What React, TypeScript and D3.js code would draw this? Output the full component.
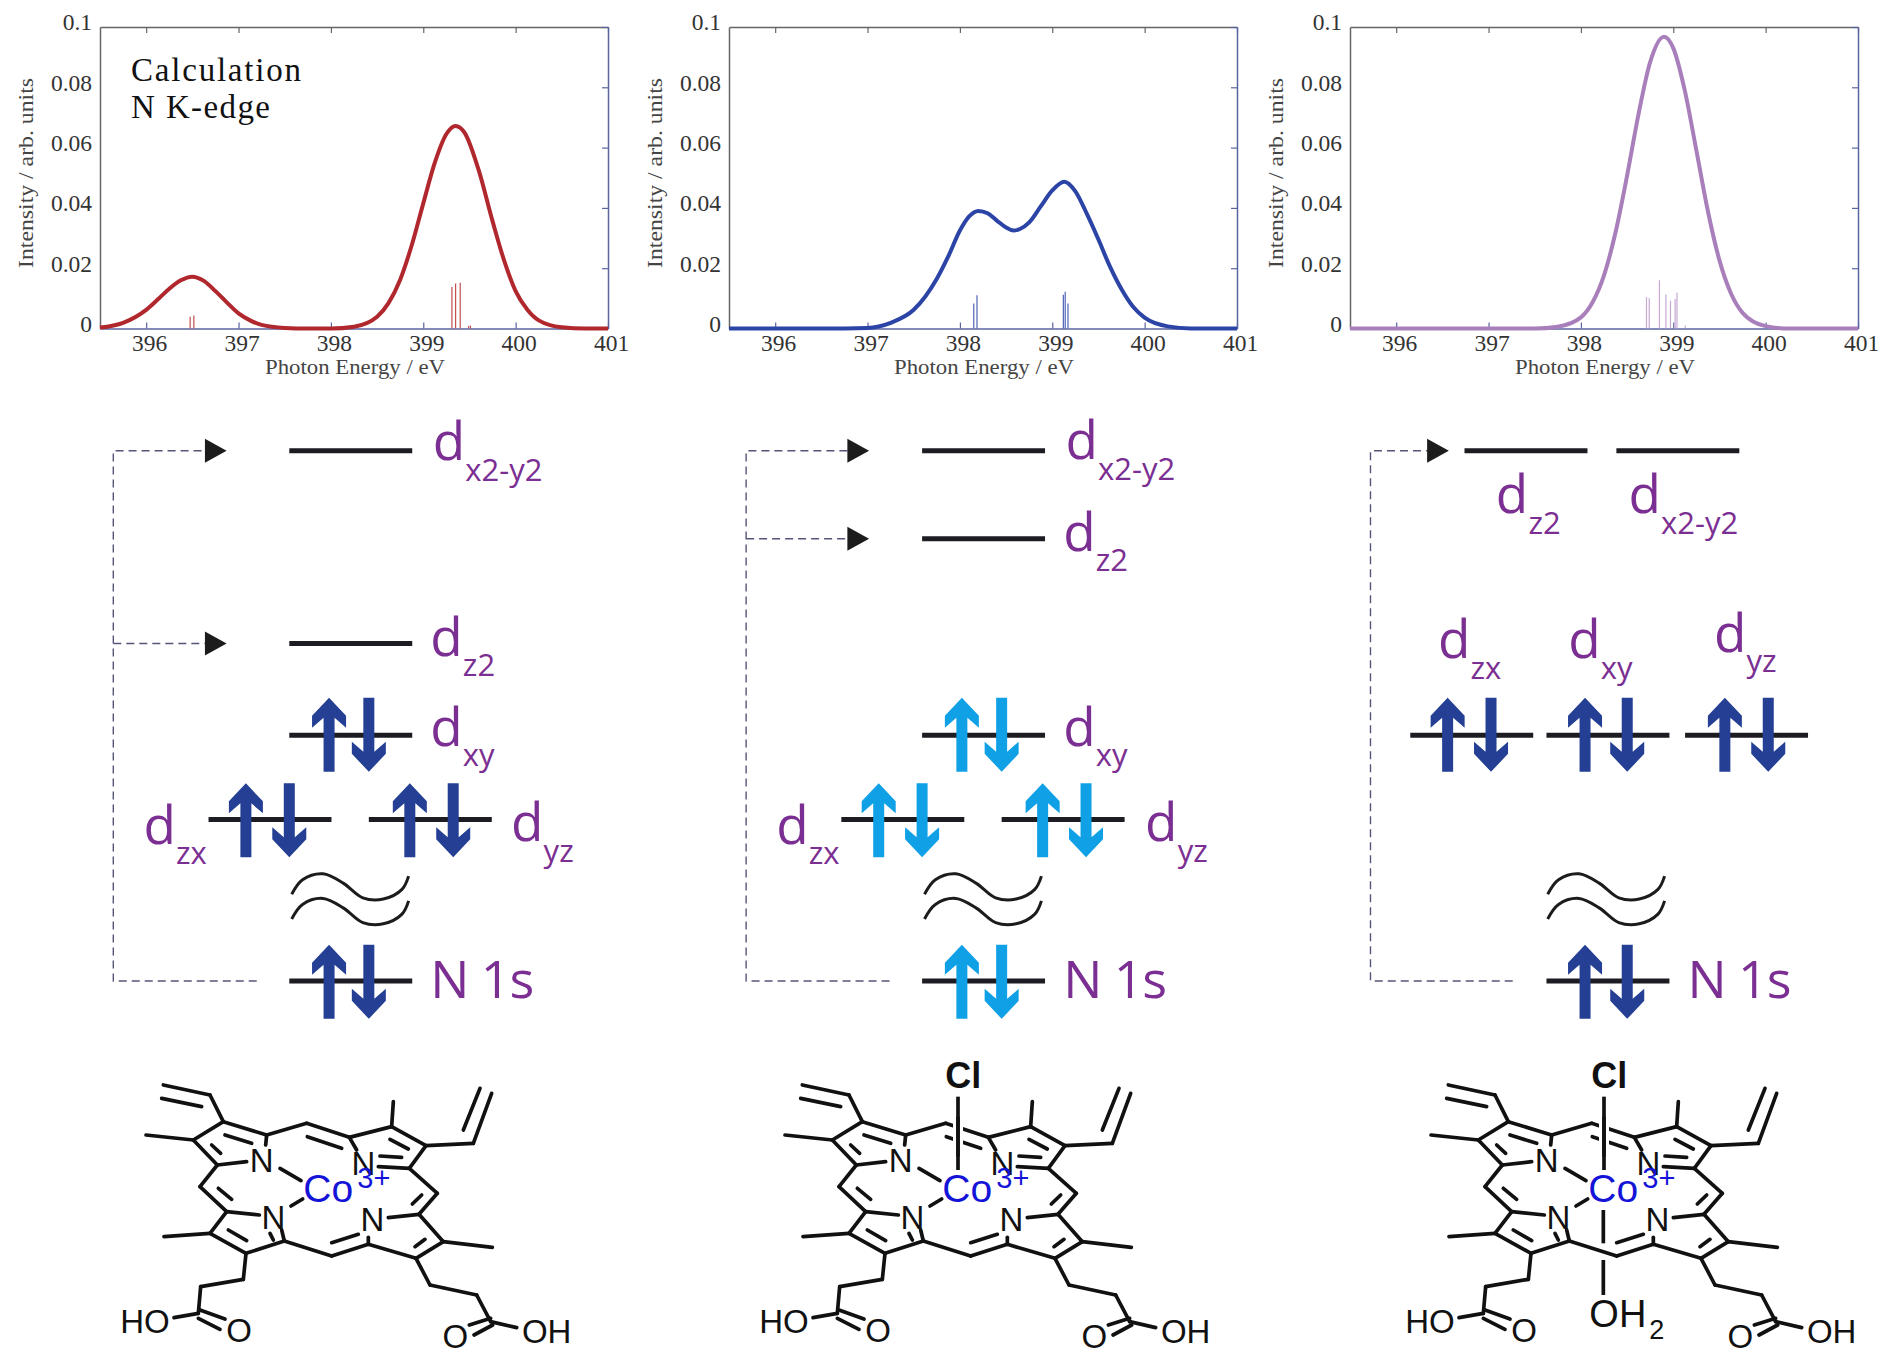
import { useRef, useEffect } from 'react';
import * as d3 from 'd3';

// spectra: [photon energy, intensity]
const redCurve: [number, number][] = [
  [395.5, 0.0003], [395.75, 0.0019], [396, 0.0062], [396.125, 0.0096], [396.25, 0.0132], [396.375, 0.016], [396.5, 0.0172], [396.625, 0.0158], [396.75, 0.0124],
  [396.875, 0.0086], [397, 0.005], [397.125, 0.0027], [397.25, 0.0012], [397.5, 0.0002], [397.75, 0], [398, 0], [398.25, 0.0006], [398.5, 0.0039],
  [398.625, 0.0085], [398.75, 0.0162], [398.875, 0.0276], [399, 0.0415], [399.125, 0.055], [399.25, 0.0645], [399.35, 0.0672], [399.45, 0.0648],
  [399.6, 0.0525], [399.75, 0.0356], [399.875, 0.0226], [400, 0.0124], [400.125, 0.0063], [400.25, 0.0027], [400.5, 0.0004], [400.75, 0], [401, 0],
];
const blueCurve: [number, number][] = [
  [395.5, 0], [396, 0], [396.5, 0], [397, 0.0002], [397.25, 0.0019], [397.5, 0.0062], [397.75, 0.0165], [397.875, 0.024], [398, 0.0325], [398.1, 0.0372], [398.2, 0.039],
  [398.3, 0.0382], [398.4, 0.0358], [398.5, 0.0335], [398.58, 0.0325], [398.65, 0.033], [398.75, 0.0352], [398.875, 0.0405], [399, 0.0458], [399.13, 0.0487],
  [399.25, 0.0455], [399.375, 0.038], [399.5, 0.0295], [399.625, 0.0205], [399.75, 0.013], [399.875, 0.0072], [400, 0.0036], [400.25, 0.0007], [400.5, 0], [401, 0],
];
const purpleCurve: [number, number][] = [
  [395.5, 0], [396.5, 0], [397.5, 0], [397.75, 0.0006], [398, 0.0037], [398.125, 0.0086], [398.25, 0.0176], [398.375, 0.0319], [398.5, 0.0507], [398.625, 0.0713],
  [398.75, 0.0884], [398.9, 0.0968], [399, 0.093], [399.125, 0.0789], [399.25, 0.0591], [399.375, 0.0389], [399.5, 0.0226], [399.625, 0.0116], [399.75, 0.0052], [400, 0.0008], [400.25, 0], [401, 0],
];

// calculated transitions
const redSticks: [number, number][] = [
  [396.476, 0.0039], [396.516, 0.0043], [399.31, 0.0138], [399.35, 0.0149], [399.4, 0.0152], [399.49, 0.0008], [399.51, 0.001],
];
const blueSticks: [number, number][] = [
  [398.15, 0.0083], [398.185, 0.011], [399.12, 0.0112], [399.14, 0.0122], [399.17, 0.0083],
];
const purpleSticks: [number, number][] = [
  [398.71, 0.0104], [398.74, 0.01], [398.85, 0.016], [398.92, 0.0113], [398.97, 0.0092], [399.02, 0.0098], [399.04, 0.0119], [399.13, 0.001],
];

const xTicks = [396, 397, 398, 399, 400, 401];
const yTicks = [0, 0.02, 0.04, 0.06, 0.08, 0.1];

const panelLeft = [100, 729, 1350];
const curves = [redCurve, blueCurve, purpleCurve];
const sticks = [redSticks, blueSticks, purpleSticks];
const curveColors = ['#b0282e', '#2c44a6', '#a87fbb'];
const stickColors = ['#c2504f', '#4e63b8', '#c7a8d3'];
const arrowColors = ['#243f94', '#10a0e6', '#243f94'];

// energy level diagram, in reference picture units (1568 wide)
const levels: { x: number; y: number }[][] = [
  [{ x: 240, y: 374 }, { x: 240, y: 534 }, { x: 240, y: 610 }, { x: 173, y: 680 }, { x: 306, y: 680 }, { x: 240, y: 814 }],
  [{ x: 765, y: 374 }, { x: 765, y: 447 }, { x: 765, y: 610 }, { x: 698, y: 680 }, { x: 831, y: 680 }, { x: 765, y: 814 }],
  [{ x: 1215, y: 374 }, { x: 1341, y: 374 }, { x: 1170, y: 610 }, { x: 1283, y: 610 }, { x: 1398, y: 610 }, { x: 1283, y: 814 }],
];
const spinPairs: [number, number, number][][] = [
  [[273, 306, 579], [204, 240, 650], [340, 376, 650], [273, 306, 784]],
  [[798, 831, 579], [729, 765, 650], [865, 901, 650], [798, 831, 784]],
  [[1201, 1237, 579], [1315, 1350, 579], [1431, 1467, 579], [1315, 1350, 784]],
];
const orbitalLabels: { sub: string; x: number; y: number }[][] = [
  [{ sub: 'x2-y2', x: 359, y: 382 }, { sub: 'z2', x: 357, y: 544 }, { sub: 'xy', x: 357, y: 619 }, { sub: 'zx', x: 119, y: 700 }, { sub: 'yz', x: 424, y: 698 }],
  [{ sub: 'x2-y2', x: 884, y: 381 }, { sub: 'z2', x: 882, y: 457 }, { sub: 'xy', x: 882, y: 619 }, { sub: 'zx', x: 644, y: 700 }, { sub: 'yz', x: 950, y: 698 }],
  [{ sub: 'z2', x: 1241, y: 426 }, { sub: 'x2-y2', x: 1351, y: 426 }, { sub: 'zx', x: 1193, y: 546 }, { sub: 'xy', x: 1301, y: 546 }, { sub: 'yz', x: 1422, y: 541 }],
];
const n1sLabelX = [357, 882, 1400];
const dashX = [94, 619, 1137];
const dashEnd = [213, 738, 1255];
const dashBranches = [[374, 534], [374, 447], [374]];
const arrowHeadX = [170, 703, 1184];
const tildeX = [0, 525, 1042];
const tildePoints: [number, number][] = [[242, 742], [251, 730], [268, 725], [285, 733], [301, 745], [318, 746], [333.5, 738], [339, 727]];

// porphyrin skeleton, in units of a third of a pixel
const bonds: number[][] = [
  [190, 105, 330, 135], [185, 145, 305, 170], [330, 135, 370, 215], [370, 215, 500, 255], [375, 255, 455, 280], [370, 215, 280, 270],
  [280, 270, 138, 255], [280, 270, 352, 345], [335, 285, 362, 310], [352, 345, 440, 335], [500, 255, 497, 285], [500, 255, 620, 220],
  [620, 220, 748, 262], [622, 260, 725, 295], [748, 262, 770, 300], [748, 262, 875, 230], [875, 230, 880, 155], [875, 230, 978, 287],
  [870, 268, 925, 297], [978, 287, 1120, 280], [1120, 280, 1175, 130], [1090, 240, 1140, 115], [978, 287, 928, 355], [928, 355, 835, 350],
  [840, 318, 905, 322], [928, 355, 1012, 430], [1012, 430, 957, 493], [965, 435, 937, 462], [957, 493, 865, 503], [957, 493, 1030, 575],
  [1030, 575, 1177, 592], [1030, 575, 948, 625], [975, 568, 945, 590], [948, 625, 805, 583], [805, 583, 805, 562], [805, 583, 695, 618],
  [695, 578, 775, 553], [695, 618, 553, 573], [553, 573, 545, 540], [520, 570, 510, 550], [553, 573, 438, 610], [438, 610, 330, 550],
  [440, 572, 385, 540], [330, 550, 192, 560], [330, 550, 380, 485], [380, 485, 478, 495], [380, 485, 300, 410], [395, 448, 355, 415],
  [300, 410, 352, 345], [438, 610, 430, 688], [430, 688, 302, 710], [302, 710, 295, 790], [295, 790, 222, 803], [300, 780, 375, 807],
  [295, 805, 360, 838], [948, 625, 990, 705], [990, 705, 1130, 735], [1130, 735, 1172, 815], [1172, 815, 1250, 833], [1172, 805, 1108, 825],
  [1178, 825, 1122, 855], [540, 355, 603, 392], [573, 468, 608, 447],
];
const atoms: { t: string; x: number; y: number }[] = [
  { t: 'N', x: 485, y: 365 }, { t: 'N', x: 790, y: 375 }, { t: 'N', x: 520, y: 537 }, { t: 'N', x: 817, y: 542 },
  { t: 'HO', x: 135, y: 850 }, { t: 'O', x: 417, y: 876 }, { t: 'O', x: 1066, y: 893 }, { t: 'OH', x: 1340, y: 880 },
];
const moleculeLeft = [100, 739, 1385];

export default function App() {
  const svgRef = useRef<SVGSVGElement>(null);

  useEffect(() => {
    if (!svgRef.current) return;

    const width = 1890;
    const height = 1351;
    const plotWidth = 508;
    const top = 27;
    const bottom = 328.5;
    const serif = '"Liberation Serif", serif';
    const sans = '"Open Sans", sans-serif';
    const arial = '"Liberation Sans", sans-serif';

    const svg = d3.select(svgRef.current)
      .attr('width', width)
      .attr('height', height);

    svg.selectAll('*').remove();

    const sx = d3.scaleLinear().domain([0, 1568]).range([0, width]);
    const sy = d3.scaleLinear().domain([0, 1121]).range([0, height]);

    // spectra
    panelLeft.forEach((left, i) => {
      const x = d3.scaleLinear().domain([395.5, 401]).range([left, left + plotWidth]);
      const y = d3.scaleLinear().domain([0, 0.1]).range([bottom, top]);
      const g = svg.append('g');

      const styleAxis = (a: any, color: string) => {
        a.selectAll('path').attr('stroke', color).attr('stroke-width', 1.5);
        a.selectAll('line').attr('stroke', color).attr('stroke-width', 1.2);
        a.selectAll('text')
          .attr('font-family', serif)
          .attr('font-size', 23.5)
          .attr('fill', '#333');
        return a;
      };

      styleAxis(g.append('g').attr('transform', `translate(0,${top})`)
        .call(d3.axisTop(x).tickValues(xTicks).tickSize(-6).tickSizeOuter(0).tickFormat(() => '')), '#666');
      styleAxis(g.append('g').attr('transform', `translate(${left + plotWidth},0)`)
        .call(d3.axisRight(y).tickValues(yTicks).tickSize(-6).tickSizeOuter(0).tickFormat(() => '')), '#5a64a0');
      styleAxis(g.append('g').attr('transform', `translate(${left},0)`)
        .call(d3.axisLeft(y).tickValues(yTicks).tickSize(0).tickPadding(8).tickFormat(d => String(d))), '#666')
        .selectAll('text').attr('dy', '0.12em');
      styleAxis(g.append('g').attr('transform', `translate(0,${bottom})`)
        .call(d3.axisBottom(x).tickValues(xTicks).tickSize(-6).tickSizeOuter(0).tickPadding(6).tickFormat(d => String(d))), '#5a64a0')
        .selectAll('text').attr('dx', 3);

      g.append('text')
        .attr('x', left + 165).attr('y', 374)
        .attr('font-family', serif).attr('font-size', 22).attr('fill', '#444')
        .attr('textLength', 180).attr('lengthAdjust', 'spacingAndGlyphs')
        .text('Photon Energy / eV');
      g.append('text')
        .attr('transform', `translate(${left - 67},268) rotate(-90)`)
        .attr('font-family', serif).attr('font-size', 21).attr('fill', '#444')
        .attr('textLength', 190).attr('lengthAdjust', 'spacingAndGlyphs')
        .text('Intensity / arb. units');

      g.selectAll('line.stick')
        .data(sticks[i])
        .join('line')
        .attr('class', 'stick')
        .attr('x1', d => x(d[0])).attr('x2', d => x(d[0]))
        .attr('y1', y(0)).attr('y2', d => y(d[1]))
        .attr('stroke', stickColors[i])
        .attr('stroke-width', 1.2);

      const line = d3.line<[number, number]>()
        .x(d => x(d[0]))
        .y(d => y(d[1]))
        .curve(d3.curveMonotoneX);

      g.append('path')
        .datum(curves[i])
        .attr('fill', 'none')
        .attr('stroke', curveColors[i])
        .attr('stroke-width', 4)
        .attr('d', line);
    });

    svg.append('text').attr('x', 131).attr('y', 81)
      .attr('font-family', serif).attr('font-size', 33).attr('fill', '#111')
      .attr('textLength', 170).attr('lengthAdjust', 'spacing')
      .text('Calculation');
    svg.append('text').attr('x', 131).attr('y', 118)
      .attr('font-family', serif).attr('font-size', 33).attr('fill', '#111')
      .attr('textLength', 139).attr('lengthAdjust', 'spacing')
      .text('N K-edge');

    // energy levels
    const purple = '#7b2f92';
    const spinArrow = (cx: number, t: number, up: boolean) => {
      const h = 74;
      const yy = (v: number) => (up ? t + v : t + h - v);
      return `M${cx},${yy(0)}L${cx + 17},${yy(18)}V${yy(30)}L${cx + 5.5},${yy(20)}V${yy(h)}H${cx - 5.5}V${yy(20)}L${cx - 17},${yy(30)}V${yy(18)}Z`;
    };
    const tilde = d3.line<[number, number]>()
      .x(d => sx(d[0]))
      .y(d => sy(d[1]))
      .curve(d3.curveCatmullRom.alpha(0.5));

    levels.forEach((panel, i) => {
      const g = svg.append('g');

      // dashed excitation path
      const dx = sx(dashX[i]);
      const dash = d3.path();
      dash.moveTo(sx(dashEnd[i]), sy(814));
      dash.lineTo(dx, sy(814));
      dash.lineTo(dx, sy(374));
      dash.lineTo(sx(arrowHeadX[i]), sy(374));
      dashBranches[i].slice(1).forEach(b => {
        dash.moveTo(dx, sy(b));
        dash.lineTo(sx(arrowHeadX[i]), sy(b));
      });
      g.append('path').attr('d', dash.toString())
        .attr('fill', 'none').attr('stroke', '#55557a').attr('stroke-width', 1.4).attr('stroke-dasharray', '8,5');
      g.selectAll('path.head')
        .data(dashBranches[i])
        .join('path')
        .attr('class', 'head')
        .attr('fill', '#1c1c1c')
        .attr('d', b => `M${sx(arrowHeadX[i])},${sy(b) - 12}L${sx(arrowHeadX[i] + 18)},${sy(b)}L${sx(arrowHeadX[i])},${sy(b) + 12}Z`);

      g.selectAll('line.level')
        .data(panel)
        .join('line')
        .attr('class', 'level')
        .attr('x1', d => sx(d.x)).attr('x2', d => sx(d.x + 102))
        .attr('y1', d => sy(d.y)).attr('y2', d => sy(d.y))
        .attr('stroke', '#1c1c22')
        .attr('stroke-width', 5);

      g.selectAll('path.spin')
        .data(spinPairs[i].flatMap(p => [{ x: p[0], t: p[2], up: true }, { x: p[1], t: p[2], up: false }]))
        .join('path')
        .attr('class', 'spin')
        .attr('fill', arrowColors[i])
        .attr('d', d => spinArrow(sx(d.x), sy(d.t), d.up));

      [0, 20.5].forEach(off => {
        g.append('path')
          .datum(tildePoints.map(p => [p[0] + tildeX[i], p[1] + off] as [number, number]))
          .attr('fill', 'none').attr('stroke', '#1c1c1c').attr('stroke-width', 3)
          .attr('d', tilde);
      });

      orbitalLabels[i].forEach(l => {
        g.append('text').attr('x', sx(l.x)).attr('y', sy(l.y))
          .attr('font-family', sans).attr('font-size', 53).attr('fill', purple)
          .text('d');
        g.append('text').attr('x', sx(l.x + 27)).attr('y', sy(l.y + 17))
          .attr('font-family', sans).attr('font-size', 31).attr('fill', purple)
          .text(l.sub);
      });
      g.append('text').attr('x', sx(n1sLabelX[i])).attr('y', sy(828))
        .attr('font-family', sans).attr('font-size', 52).attr('fill', purple)
        .attr('textLength', 104).attr('lengthAdjust', 'spacing')
        .text('N 1s');
    });

    // porphyrin drawings
    moleculeLeft.forEach((left, i) => {
      const mx = d3.scaleLinear().domain([0, 3]).range([left, left + 1]);
      const my = d3.scaleLinear().domain([0, 3]).range([1050, 1051]);
      const g = svg.append('g');

      g.selectAll('line.bond')
        .data(bonds)
        .join('line')
        .attr('class', 'bond')
        .attr('x1', d => mx(d[0])).attr('y1', d => my(d[1]))
        .attr('x2', d => mx(d[2])).attr('y2', d => my(d[3]))
        .attr('stroke', '#111')
        .attr('stroke-width', 3.7)
        .attr('stroke-linecap', 'round');

      g.selectAll('text.atom')
        .data(atoms)
        .join('text')
        .attr('class', 'atom')
        .attr('x', d => mx(d.x)).attr('y', d => my(d.y))
        .attr('text-anchor', 'middle')
        .attr('font-family', arial).attr('font-size', 33).attr('fill', '#111')
        .text(d => d.t);

      // axial ligands
      const axial = (x1: number, y1: number, x2: number, y2: number, halo: boolean) => {
        if (halo) {
          g.append('line').attr('x1', mx(x1)).attr('y1', my(y1)).attr('x2', mx(x2)).attr('y2', my(y2))
            .attr('stroke', '#fff').attr('stroke-width', 10);
        }
        g.append('line').attr('x1', mx(x1)).attr('y1', my(y1)).attr('x2', mx(x2)).attr('y2', my(y2))
          .attr('stroke', '#111').attr('stroke-width', 3.7);
      };
      if (i > 0) {
        axial(657, 200, 657, 320, true);
        axial(657, 140, 657, 360, false);
        g.append('text').attr('x', mx(673)).attr('y', my(115))
          .attr('text-anchor', 'middle')
          .attr('font-family', arial).attr('font-weight', 700).attr('font-size', 36).attr('fill', '#111')
          .text('Cl');
      }
      if (i === 2) {
        axial(655, 480, 655, 580, false);
        axial(655, 630, 655, 735, false);
        g.append('text').attr('x', mx(613)).attr('y', my(830))
          .attr('font-family', arial).attr('font-size', 38).attr('fill', '#111')
          .text('OH');
        g.append('text').attr('x', mx(793)).attr('y', my(868))
          .attr('font-family', arial).attr('font-size', 27).attr('fill', '#111')
          .text('2');
      }

      g.append('text').attr('x', mx(610)).attr('y', my(455))
        .attr('font-family', arial).attr('font-size', 39).attr('fill', '#1414d8')
        .text('Co');
      g.append('text').attr('x', mx(772)).attr('y', my(414))
        .attr('font-family', arial).attr('font-size', 29).attr('fill', '#1414d8')
        .text('3+');
    });
  }, []);

  return <svg ref={svgRef} style={{ position: 'absolute', left: 0, top: 0, background: '#fff' }}></svg>;
}
